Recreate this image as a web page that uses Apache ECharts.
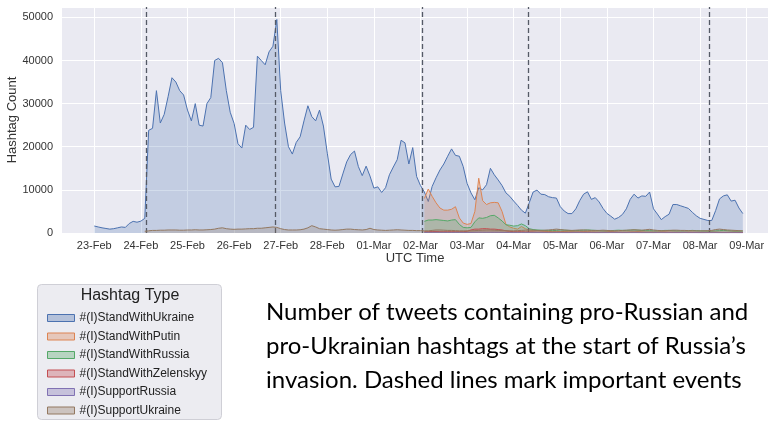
<!DOCTYPE html>
<html><head><meta charset="utf-8">
<script src="https://cdn.jsdelivr.net/npm/echarts@6/dist/echarts.min.js"></script>
<style>html,body{margin:0;padding:0;background:#fff;}#c{width:768px;height:432px;}</style>
</head><body><div id="c"></div>
<script>
// x positions are in days since 23-Feb 00:00 UTC; one value every 2 hours
const dayLabels = ['23-Feb','24-Feb','25-Feb','26-Feb','27-Feb','28-Feb','01-Mar','02-Mar','03-Mar','04-Mar','05-Mar','06-Mar','07-Mar','08-Mar','09-Mar'];
const stepHours = 2;
const eventDays = [1.109, 3.878, 7.026, 9.307, 13.19];

const seriesNames = ['#(I)StandWithUkraine','#(I)StandWithPutin','#(I)StandWithRussia','#(I)StandWithZelenskyy','#(I)SupportRussia','#(I)SupportUkraine'];

const ukraineStart = 0;
const ukraine = [
1620,1400,1200,1050,900,1000,1200,1400,1300,2200,2700,2500,
2750,3400,23800,24270,33000,25500,27500,31600,36000,35000,33000,32000,
28500,26000,30000,25000,24800,30000,31400,40000,40500,39500,33000,28000,
25400,20700,19700,25000,24000,24500,41000,40000,39000,42000,43300,49500,
33000,25500,20000,18300,21000,22300,26000,29500,27000,26000,28500,24800,
18500,12500,10700,10800,13700,16500,18200,19000,15400,13300,15500,13200,
10400,10700,9400,10500,13500,15300,17000,21500,20900,16000,19800,13100,
11000,9500,7300,10800,12800,14600,16000,17800,19500,18000,17800,15400,
11500,9300,7700,10500,10000,11200,15000,13500,12300,11000,9300,8500,
7400,6400,5300,4600,7000,9500,9950,9000,8900,8400,8200,8100,
6100,5100,4500,4500,5600,7500,9000,9550,7800,8200,7200,5700,
4550,3900,3200,3600,4300,5600,7800,9000,8100,8600,8500,9500,
5600,4400,3100,3800,4350,6600,6600,6300,6000,5700,4800,4000,
3400,3150,2900,2900,5200,7900,8600,8850,7400,7600,5800,4500];

const putinStart = 85;
const putin = [
8000,10200,8500,7000,5800,5300,5300,5500,6100,3500,2300,2000,2200,5000,12700,7500,6600,7000,7100,7000,5000,2000,1400,1100,900,1500,1000,700,600,600,500,
400,350,300,300,300,350,300,300,250,250,300,300,250,250,200,200,250,300,250,200,200,200,250,250,300,250,200,200,200,200,250,250,200,200,200,150,150,200,200,150,150,150,200,200,200,150,150,150,200,250,200,150];

const russiaStart = 85;
const russia = [
2700,3000,3000,3100,3000,2900,2800,3000,3100,2000,1300,1200,1300,2600,3500,3400,3600,4000,4100,3500,2800,1900,1800,1600,1700,2100,1700,1000,800,700,650,
600,600,550,600,700,650,600,550,550,600,650,700,650,600,550,500,500,550,600,650,600,600,650,700,650,600,550,550,500,500,550,600,600,550,500,500,500,550,600,550,500,500,450,450,500,550,600,550,500,450,450,450];

const zelenskyyStart = 85;
const zelenskyy = [
300,300,350,350,300,300,300,300,300,300,300,400,700,900,900,1000,1000,900,900,800,700,500,400,300,300,300,250,250,250,200,
200,200,180,180,200,200,180,160,160,180,200,200,180,160,150,150,160,180,200,180,160,150,150,160,180,180,160,150,150,150,160,170,160,150,140,140,150,160,150,140,140,130,130,140,150,140,130,130,130,140,140,130,120];

const supportRussiaStart = 85;
const supportRussia = [
120,130,150,150,140,130,120,120,130,120,110,110,120,150,180,160,150,150,160,150,130,120,110,100,100,110,100,100,90,90,
90,90,80,80,90,90,80,80,80,90,90,80,80,80,70,70,80,80,90,80,80,70,70,80,80,80,70,70,70,70,80,80,70,70,70,70,70,80,70,70,70,60,60,70,70,70,60,60,60,70,70,60,60];

const supportUkraineStart = 13;
const supportUkraine = [
400,500,
600,600,650,650,700,700,
700,650,650,700,700,750,700,700,750,800,
900,1100,1200,1000,900,850,
900,900,950,1000,1000,1100,1100,1200,1300,1400,1300,1000,
800,700,700,700,750,900,1200,1700,1400,1000,900,800,
700,650,700,800,900,900,800,750,700,800,1100,800,
700,650,600,650,700,750,700,650,600,600,550,550,
500,500,600,700,700,650,600,600,550,500,500,500,
500,550,600,650,700,700,650,600,550,550,500,500,
550,600,650,700,650,600,600,650,700,800,900,800,
700,650,600,650,700,700,650,600,600,600,650,600,
550,500,550,600,650,700,750,700,650,750,850,700,
600,550,550,600,650,650,600,600,550,550,500,500,
500,550,600,800,900,800,700,650,600,550,500];

const lineColors = ['#4c72b0','#dd8452','#55a868','#c44e52','#8172b3','#937860'];
const fillColors = ['rgba(76,114,176,0.35)','rgba(221,132,82,0.35)','rgba(85,168,104,0.35)','rgba(196,78,82,0.35)','rgba(129,114,179,0.35)','rgba(147,120,96,0.35)'];

function toPairs(arr, start) {
  return arr.map((v, k) => [(start + k) * stepHours / 24, v]);
}
const allData = [
  toPairs(ukraine, ukraineStart),
  toPairs(putin, putinStart),
  toPairs(russia, russiaStart),
  toPairs(zelenskyy, zelenskyyStart),
  toPairs(supportRussia, supportRussiaStart),
  toPairs(supportUkraine, supportUkraineStart)
];

const FONT = 'Liberation Sans, Arial, sans-serif';
const dayValues = dayLabels.map((_, k) => k);

const series = seriesNames.map((name, k) => ({
  name: name,
  type: 'line',
  data: allData[k],
  showSymbol: false,
  symbol: 'none',
  lineStyle: { color: lineColors[k], width: 1 },
  itemStyle: { color: lineColors[k] },
  areaStyle: { color: fillColors[k], origin: 'start' },
  z: 2 + k,
  animation: false
}));
series[0].markLine = {
  silent: true,
  symbol: 'none',
  label: { show: false },
  lineStyle: { color: '#555a66', type: [5, 3], width: 1.3 },
  data: eventDays.map(d => ({ xAxis: d })),
  animation: false
};

const chart = echarts.init(document.getElementById('c'), null, { renderer: 'canvas' });
chart.setOption({
  animation: false,
  backgroundColor: '#ffffff',
  grid: { left: 62, right: 0, top: 7, bottom: 199, show: true, backgroundColor: '#eaeaf2', borderWidth: 0,
          containLabel: false, outerBoundsMode: 'none' },
  xAxis: {
    type: 'value',
    min: -0.693,
    max: 14.457,
    name: 'UTC Time',
    nameLocation: 'middle',
    nameGap: 19,
    nameMoveOverlap: false,
    nameTextStyle: { fontFamily: FONT, fontSize: 13, color: '#333', verticalAlign: 'top' },
    axisLine: { show: false },
    axisTick: { show: false, customValues: dayValues },
    axisLabel: {
      customValues: dayValues,
      fontFamily: FONT, fontSize: 11, color: '#333', margin: 7,
      formatter: v => dayLabels[Math.round(v)]
    },
    splitLine: { show: true, lineStyle: { color: '#ffffff', width: 1 } }
  },
  yAxis: {
    type: 'value',
    min: 0,
    max: 52400,
    interval: 10000,
    name: 'Hashtag Count',
    nameLocation: 'middle',
    nameGap: 43,
    nameMoveOverlap: false,
    nameTextStyle: { fontFamily: FONT, fontSize: 13, color: '#333' },
    axisLine: { show: false },
    axisTick: { show: false },
    axisLabel: { fontFamily: FONT, fontSize: 11, color: '#333', margin: 9, showMaxLabel: false,
                 formatter: v => String(v) },
    splitLine: { show: true, lineStyle: { color: '#ffffff', width: 1 } }
  },
  legend: {
    orient: 'vertical',
    left: 42,
    top: 304,
    icon: 'rect',
    itemWidth: 27,
    itemHeight: 7,
    itemGap: 0.5,
    textStyle: { fontFamily: FONT, fontSize: 12, color: '#222', lineHeight: 18 },
    data: seriesNames.map((n, k) => ({
      name: n,
      itemStyle: { color: fillColors[k], borderColor: lineColors[k], borderWidth: 1 }
    }))
  },
  graphic: [
    { type: 'rect', z: -1, shape: { x: 37.5, y: 284.5, width: 184, height: 135, r: 4 },
      style: { fill: '#ececf1', stroke: '#cfcfd6', lineWidth: 1 } },
    { type: 'text', z: 10, x: 130, y: 296,
      style: { text: 'Hashtag Type', fontFamily: FONT, fontSize: 16, fill: '#222', textAlign: 'center', textVerticalAlign: 'middle' } },
    { type: 'text', z: 10, x: 266, y: 295,
      style: { text: 'Number of tweets containing pro-Russian and\npro-Ukrainian hashtags at the start of Russia\u2019s\ninvasion. Dashed lines mark important events',
        fontFamily: 'Lato, sans-serif', fontSize: 24, lineHeight: 34, fill: '#000', textVerticalAlign: 'top' } }
  ],
  series: series
});
</script>
</body></html>
